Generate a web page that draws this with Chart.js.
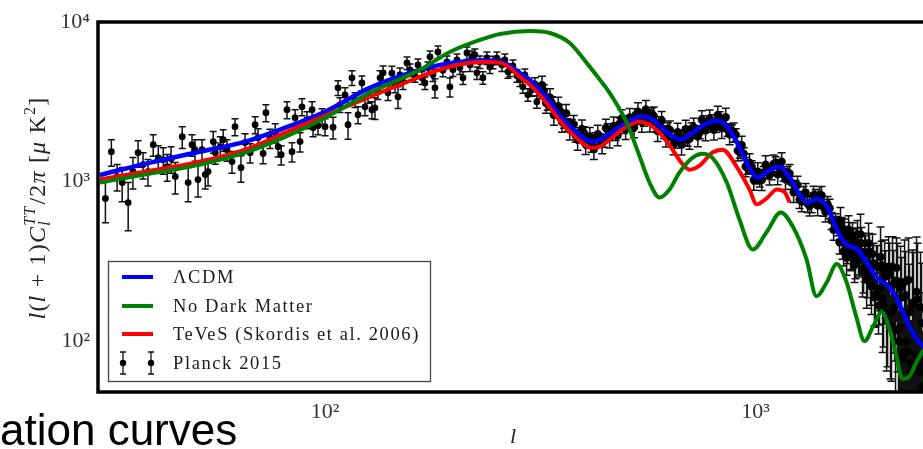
<!DOCTYPE html>
<html>
<head>
<meta charset="utf-8">
<script src="https://cdn.jsdelivr.net/npm/chart.js@4.4.0/dist/chart.umd.min.js"></script>
<style>
  html, body { margin: 0; padding: 0; background: #fff; overflow: hidden; }
  #wrap { position: relative; width: 923px; height: 449px; overflow: hidden; }
  #box { position: absolute; left: 0; top: 0; width: 945px; height: 449px; }
  #slide { position: absolute; left: 0; top: 408px; font: 44px "Liberation Sans", Arial, sans-serif; line-height: 44px; color: #000; white-space: nowrap; }
</style>
</head>
<body>
<div id="wrap">
  <div id="box"><canvas id="c" width="945" height="449"></canvas></div>
  <div id="slide">ation curves</div>
</div>
<script>
// ---- model curves (multipole l, D_l in muK^2) ----
var lcdmL = [30,39.3,49.9,65.2,80.8,100,127,166,190,217,235,255,269,283,299,315,333,351,370,390,416,435,458,497,538,567,598,637,672,709,761,811,857,903,953,1011,1066,1133,1200,1265,1320,1390,1470,1550,1634,1716,1805,1922,2022,2131,2246,2367,2494];
var lcdmD = [1100,1315,1517,1778,2175,2738,3868,5012,5463,5702,5750,5623,5310,4800,4340,3758,3162,2598,2239,1966,1778,1833,1995,2310,2547,2512,2239,1939,1833,1995,2276,2409,2239,1778,1315,1059,1155,1241,1059,830,738,784,688,487,398,380,316,245,224,183,133,103,87];

var nodmL = [30,39.3,49.9,65.2,80.8,100,127,166,195,229,255,299,333,370,412,435,458,502,538,567,598,631,665,714,753,793,857,917,985,1060,1144,1219,1313,1384,1463,1543,1626,1712,1790,1875,1963,2046,2122,2193,2273,2370,2460];
var nodmD = [986,1122,1259,1517,1905,2512,3597,5012,6494,7720,8414,8784,8536,7394,5233,4340,3597,2339,1432,986,794,891,1138,1413,1496,1413,986,579,375,481,641,524,325,191,234,304,234,143,100,124,152,119,81,58,60,75,89];

var tevesL = [30,39.3,49.9,65.2,80.8,100,127,166,190,217,235,255,269,283,299,315,333,351,370,390,416,435,458,497,538,567,598,637,672,702,741,793,838,903,968,1005,1060,1120,1165,1200];
var tevesD = [1030,1171,1314,1585,2024,2594,3393,4532,5150,5546,5623,5546,5150,4532,4040,3497,2902,2409,2054,1803,1629,1656,1833,2175,2371,2276,2024,1629,1315,1188,1259,1517,1585,1241,891,720,784,891,865,740];

// ---- Planck 2015 points ----
var lowL = [30.9,31.9,32.9,33.8,34.9,35.8,36.8,37.8,38.8,39.9,41.0,42.1,43.0,43.9,44.9,46.6,48.1,49.1,49.9,50.7,51.8,52.7,53.5,55.0,55.6,57.1,58.0,59.2,60.8,61.8,63.8,65.2,67.0,68.8,69.9,71.8,72.9,74.5,76.6,77.8,79.1,81.6,83.8,85.2,87.5,88.4,90.8,93.3,93.8,96.3,98.4,100,104.4,107.2,108.3,111.3,113.1,115.5,117.4,119.3,121.8,123.8,125.8,128.5,130.6,132.7,134.2,136.4,140.0,143.0,145.4,147.7,149.3,151.7,155.0,157.5,161.8,164.4,167.9,170.6,173.4,175.3,178.1,180.0,182.9,187.8,191.9,195.0,198.2,202.5,205.7,209.1,213.6,217.1,219.4,222.8,225.3,228.9,232.6,237.6,241.4,245.4,250.7,257.5,261.6,265.9,268.7,273.1,279.0,283.5,288.1,291.1,295.8,302.2,307.1,310.4];
var lowD = [783,1540,1075,986,739,1155,1518,1277,1155,1703,1412,1372,1241,1392,1075,1910,986,1703,1585,1029,1585,1106,1155,1780,1518,1655,1830,1585,1335,2207,1222,1755,1518,2271,1885,1500,2699,1870,2025,1655,1475,2818,1540,2512,1780,2940,2441,2818,2175,2240,2550,2207,2190,3868,3027,3497,2271,4467,3254,2622,4154,2940,3460,2818,2900,3650,4467,4800,3600,4780,4036,3397,4663,4216,5541,5012,4600,5383,4467,4154,5160,6046,4663,3868,6494,4990,5618,3924,5012,5788,5160,4467,6400,5383,6046,6223,4800,5618,4480,5960,5233,5600,5940,5383,5788,4875,5012,5310,4600,4340,3924,4663,3497,3758,4100,3162];
var lowErr = [232,291,203,238,247,258,287,241,218,264,267,259,235,263,240,296,238,264,246,229,246,209,218,276,235,257,284,246,207,269,231,242,209,277,260,207,329,258,279,228,204,344,213,306,246,359,298,344,265,273,311,269,340,410,321,371,429,474,345,320,440,359,367,344,450,387,474,509,382,507,428,527,494,447,499,451,414,484,402,374,464,544,420,534,584,449,506,541,451,521,464,402,576,484,544,560,432,506,403,536,471,504,535,484,521,439,451,478,414,391,353,420,315,338,369,285];

var midL = [315,322,329,336,344,351,359,366,374,382,391,399,408,416,425,435,444,453,463,473,483,494,505,516,527,538,550,562,574,586,599,612,625,638,652,666,681,695,710,726,742,757,774,791,808,825,843,861,880,899,918,938,958,979,1000,1022,1044,1066,1089,1113,1137,1161,1186,1212,1238,1265,1292,1320,1349,1378,1408,1438,1469,1501,1533];
var midD = [3650,3705,3070,3120,2740,2780,2370,2270,2250,1940,1995,2025,1780,1680,1855,1830,1805,2113,1995,1990,2305,2200,2370,2270,2622,2515,2441,2585,2660,2240,2340,2050,2145,1885,1780,1910,1855,1830,2145,2050,2040,2370,2240,2405,2230,2515,2270,2113,2080,1966,1540,1495,1222,1240,1062,1015,1140,1155,1130,1315,1222,1106,1140,985,930,772,830,728,725,795,830,690,718,570,560];
var midErr = [330,333,276,281,247,250,213,204,203,175,180,182,160,151,167,165,162,190,180,179,207,198,213,204,236,226,220,233,239,202,211,185,193,170,160,172,167,165,193,185,184,213,202,216,201,226,204,190,187,177,139,135,110,112,96,91,103,104,102,118,110,100,103,89,84,94,101,89,88,97,101,84,88,70,68];

var mid2L = [319,326,333,340,348,355,363,370,378,386,395,403,412,421,430,440,449,458,468,478,488,499,510,522,533,544,556,568,580,592,605,619,632,645,659,673,688,702,718,734,750,765,782,800,817,834,852,870,889,909,928,948,968,990,1011,1033,1055,1077,1101,1125,1149,1173,1199,1225,1251,1279,1306,1334,1363,1393,1423,1453,1485,1517,1549];
var mid2D = [4016,3109,3350,2615,2969,2364,2676,2113,2284,1825,2138,1714,1917,1596,1981,1733,2163,1884,2228,1946,2477,2128,2523,2182,2742,2364,2835,2371,2578,2070,2415,1911,2103,1708,2042,1703,2126,1851,2188,1917,2438,2092,2466,2113,2606,2160,2531,1972,2048,1560,1690,1243,1313,1022,1155,1021,1274,1103,1287,1109,1330,1035,1122,856,950,750,853,706,822,708,818,647,680,498,531];
var mid2Err = [554,429,462,361,410,326,369,292,315,252,295,237,265,220,273,239,298,260,307,269,342,294,348,301,378,326,391,327,356,286,333,264,290,236,282,235,293,255,302,265,336,289,340,292,360,298,349,272,283,215,233,172,181,141,159,141,176,152,178,153,184,143,155,118,131,104,118,97,113,98,113,89,94,69,73];

var highL = [1566,1583,1600,1617,1635,1652,1670,1688,1706,1724,1743,1762,1781,1800,1819,1838,1858,1878,1898,1919,1940,1961,1982,2003,2025,2046,2068,2091,2113,2136,2159,2182,2205,2229,2253,2277,2301,2326,2351,2376,2402,2428,2454];
var highD = [416,516,365,453,376,466,340,410,316,466,340,410,270,355,266,365,221,307,194,290,214,299,168,254,150,266,153,227,117,237,121,188,85,194,86,152,64,175,82,183,64,130,80];
var highErr = [64,80,69,70,71,88,64,91,70,104,88,106,70,105,79,108,74,103,72,108,88,123,76,115,81,144,97,143,85,173,94,146,75,171,81,151,67,184,96,227,88,178,121];

var high2L = [1574,1591,1609,1626,1644,1661,1679,1697,1715,1733,1752,1771,1791,1810,1829,1848,1868,1888,1908,1929,1950,1972,1993,2014,2036,2057,2079,2102,2124,2147,2171,2194,2217,2241,2265,2289,2313,2338,2364,2389,2415,2441];
var high2D = [562,419,477,333,499,361,451,300,418,334,467,284,355,242,411,253,351,188,298,167,337,185,279,142,293,126,293,163,288,100,215,78,235,99,242,73,169,72,204,71,163,52];
var high2Err = [125,93,106,74,111,80,101,67,93,74,156,95,119,81,137,85,117,63,99,56,182,100,151,77,158,68,158,88,155,54,178,65,195,82,201,61,204,87,246,86,197,63];

var xTicks = [100, 1000];
var yTicks = [100, 1000, 10000];
var tickText = { 100: '10\u00b2', 1000: '10\u00b3', 10000: '10\u2074' };
var legendLabels = ['\u039bCDM', 'No Dark Matter', 'TeVeS (Skordis et al. 2006)', 'Planck 2015'];

var SERIF = '"Liberation Serif", "DejaVu Serif", serif';

function pts(xs, ys) {
  return xs.map(function (x, i) { return { x: x, y: ys[i] }; });
}

var planckL = lowL.concat(midL, mid2L, highL, high2L);
var planckD = lowD.concat(midD, mid2D, highD, high2D);
var planckErr = lowErr.concat(midErr, mid2Err, highErr, high2Err);

// error bars are drawn just before the points of the dataset that carries them
var errorBars = {
  id: 'errorBars',
  beforeDatasetDraw: function (chart, args) {
    var ds = chart.data.datasets[args.index];
    if (!ds.errors) return;
    var ctx = chart.ctx, xs = chart.scales.x, ys = chart.scales.y, a = chart.chartArea;
    ctx.save();
    ctx.beginPath();
    ctx.rect(a.left, a.top, a.right - a.left, a.bottom - a.top);
    ctx.clip();
    ctx.strokeStyle = '#111';
    ctx.lineWidth = 1.5;
    ctx.beginPath();
    ds.data.forEach(function (p, i) {
      var e = ds.errors[i];
      var px = xs.getPixelForValue(p.x);
      var top = ys.getPixelForValue(p.y + e);
      var low = p.y - e;
      var bot = low > 0 ? ys.getPixelForValue(low) : a.bottom + 10;
      var cap = p.x > 300 ? 4 : 3.5;
      ctx.moveTo(px, top); ctx.lineTo(px, bot);
      ctx.moveTo(px - cap, top); ctx.lineTo(px + cap, top);
      if (low > 0) { ctx.moveTo(px - cap, bot); ctx.lineTo(px + cap, bot); }
    });
    ctx.stroke();
    ctx.restore();
  }
};

function drawPieces(ctx, parts, measureOnly) {
  var w = 0;
  parts.forEach(function (p) {
    ctx.font = (p.it ? 'italic ' : '') + p.size + 'px ' + SERIF;
    if (p.sup !== undefined) {
      var w1 = ctx.measureText(p.sup).width;
      var w2 = ctx.measureText(p.sub).width;
      if (!measureOnly) {
        ctx.fillText(p.sup, w, -10);
        ctx.fillText(p.sub, w, 5);
      }
      w += Math.max(w1, w2) + 1;
    } else {
      if (!measureOnly) ctx.fillText(p.t, w, p.dy || 0);
      w += ctx.measureText(p.t).width;
    }
  });
  return w;
}

var decorations = {
  id: 'decorations',
  afterDraw: function (chart) {
    var ctx = chart.ctx, a = chart.chartArea;
    ctx.save();

    // axes frame
    ctx.strokeStyle = '#000';
    ctx.lineWidth = 3.5;
    ctx.strokeRect(a.left, a.top, a.right - a.left, a.bottom - a.top);

    // legend
    ctx.fillStyle = '#fff';
    ctx.fillRect(108, 261, 323, 121);
    ctx.strokeStyle = '#444';
    ctx.lineWidth = 1.3;
    ctx.strokeRect(108.5, 261.5, 322, 120);
    var rowY = [277, 306, 334, 363];
    var cols = ['#0000ff', '#008000', '#ff0000'];
    ctx.lineWidth = 4;
    for (var i = 0; i < 3; i++) {
      ctx.strokeStyle = cols[i];
      ctx.beginPath(); ctx.moveTo(122, rowY[i]); ctx.lineTo(153, rowY[i]); ctx.stroke();
    }
    [123, 151].forEach(function (mx) {
      ctx.strokeStyle = '#111'; ctx.lineWidth = 1.3;
      ctx.beginPath();
      ctx.moveTo(mx, rowY[3] - 11); ctx.lineTo(mx, rowY[3] + 11);
      ctx.moveTo(mx - 3, rowY[3] - 11); ctx.lineTo(mx + 3, rowY[3] - 11);
      ctx.moveTo(mx - 3, rowY[3] + 11); ctx.lineTo(mx + 3, rowY[3] + 11);
      ctx.stroke();
      ctx.fillStyle = '#000';
      ctx.beginPath(); ctx.arc(mx, rowY[3], 3.2, 0, Math.PI * 2); ctx.fill();
    });
    ctx.fillStyle = '#1a1a1a';
    ctx.font = '18.5px ' + SERIF;
    ctx.letterSpacing = '1.6px';
    ctx.textBaseline = 'middle';
    ctx.textAlign = 'left';
    legendLabels.forEach(function (t, i) { ctx.fillText(t, 173, rowY[i] + 1); });

    // x axis title
    ctx.letterSpacing = '0px';
    ctx.font = 'italic 22px ' + SERIF;
    ctx.textAlign = 'center';
    ctx.fillStyle = '#222';
    ctx.fillText('l', 513, 437);

    // y axis title, rotated
    var parts = [
      { t: 'l', it: true, size: 24 }, { t: '(', size: 24 }, { t: 'l', it: true, size: 24 },
      { t: ' + 1)', size: 24 }, { t: 'C', it: true, size: 24 },
      { sup: 'TT', sub: 'l', it: true, size: 16 },
      { t: '/2', size: 24 }, { t: '\u03c0', it: true, size: 24 }, { t: ' [', size: 24 },
      { t: '\u03bc', it: true, size: 24 }, { t: ' K', size: 24 }, { t: '2', size: 16, dy: -10 },
      { t: ']', size: 24 }
    ];
    ctx.textAlign = 'left';
    ctx.textBaseline = 'alphabetic';
    ctx.letterSpacing = '1.2px';
    var total = drawPieces(ctx, parts, true);
    ctx.translate(45, 208);
    ctx.rotate(-Math.PI / 2);
    ctx.translate(-total / 2, 0);
    drawPieces(ctx, parts, false);

    ctx.restore();
  }
};

var chart = new Chart(document.getElementById('c').getContext('2d'), {
  type: 'line',
  data: {
    datasets: [
      {
        label: legendLabels[1], data: pts(nodmL, nodmD), order: 1,
        borderColor: '#008000', borderWidth: 4, pointRadius: 0, fill: false,
        cubicInterpolationMode: 'monotone'
      },
      {
        label: legendLabels[2], data: pts(tevesL, tevesD), order: 2,
        borderColor: '#ff0000', borderWidth: 4, pointRadius: 0, fill: false,
        cubicInterpolationMode: 'monotone'
      },
      {
        label: legendLabels[0], data: pts(lcdmL, lcdmD), order: 3,
        borderColor: '#0000ff', borderWidth: 4.5, pointRadius: 0, fill: false,
        cubicInterpolationMode: 'monotone'
      },
      {
        label: legendLabels[3], data: pts(planckL, planckD), errors: planckErr, order: 4,
        showLine: false, pointBorderWidth: 0,
        pointRadius: function (c) { return c.raw && c.raw.x > 312 ? 4.2 : 3.4; },
        pointBackgroundColor: '#000', borderColor: '#000'
      }
    ]
  },
  options: {
    responsive: false,
    animation: false,
    layout: { padding: { top: 22, right: 18, left: 0, bottom: 0 } },
    plugins: { legend: { display: false }, tooltip: { enabled: false } },
    scales: {
      x: {
        type: 'logarithmic', min: 29.7, max: 2500,
        grid: { display: false }, border: { display: false },
        afterBuildTicks: function (s) { s.ticks = xTicks.map(function (v) { return { value: v }; }); },
        afterFit: function (s) { s.height = 57; },
        ticks: {
          autoSkip: false, maxRotation: 0, padding: -1, color: '#333',
          font: { family: SERIF, size: 22 },
          callback: function (v) { return tickText[v] || ''; }
        }
      },
      y: {
        type: 'logarithmic', min: 48, max: 10000,
        grid: { display: false }, border: { display: false },
        afterBuildTicks: function (s) { s.ticks = yTicks.map(function (v) { return { value: v }; }); },
        afterFit: function (s) { s.width = 98; },
        ticks: {
          autoSkip: false, padding: 0, color: '#333',
          font: { family: SERIF, size: 22 },
          callback: function (v) { return tickText[v] || ''; }
        }
      }
    }
  },
  plugins: [errorBars, decorations]
});
</script>
</body>
</html>
